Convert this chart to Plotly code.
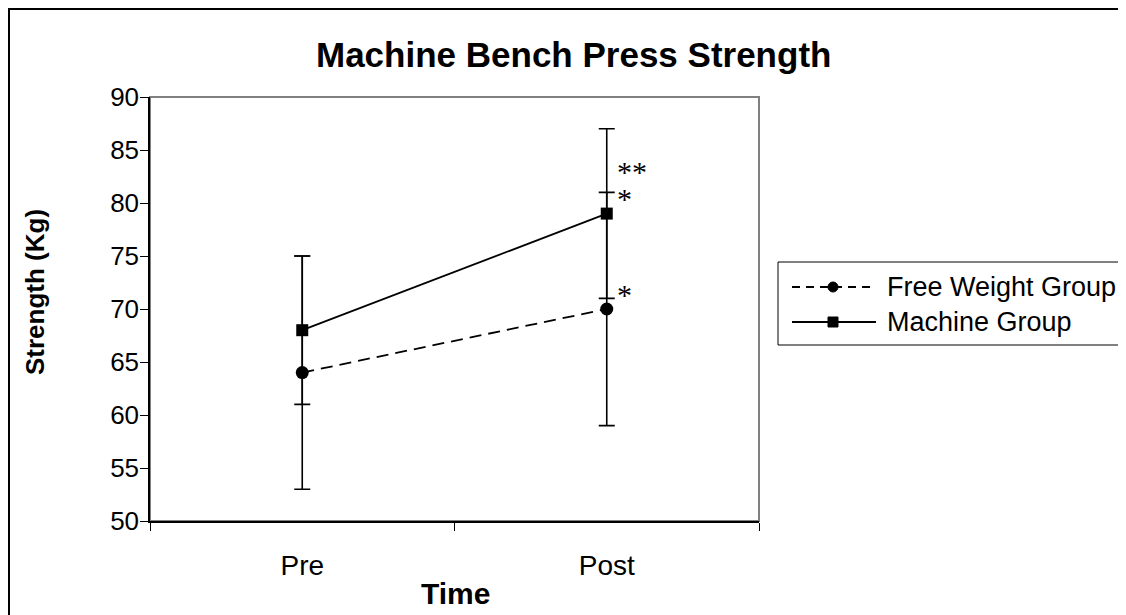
import plotly.graph_objects as go

# ---- data ----
categories = ["Pre", "Post"]
free_weight = [64, 70]
free_weight_err = [11, 11]
machine = [68, 79]
machine_err = [7, 8]
y_ticks = [50, 55, 60, 65, 70, 75, 80, 85, 90]
sig_labels = [("**", 83.0), ("*", 80.4), ("*", 71.4)]  # (text, y value) at Post
series_names = ["Free Weight Group", "Machine Group"]

FONT = "Liberation Sans, Arial, sans-serif"
SERIF = "Liberation Serif, Times New Roman, serif"

# page has an 8px body margin: work in page pixels, convert to figure pixels
OFF = 8
W, H = 1126, 615
PL, PR, PT, PB = 150, 759, 97, 521          # plot area in page pixels
L, T = PL - OFF, PT - OFF
R = W - (PR - OFF)
B = H - (PB - OFF)
pw, ph = PR - PL, PB - PT

def px(x):
    return (x - PL) / pw

def py(y):
    return (PB - y) / ph

fig = go.Figure()
fig.add_trace(go.Scatter(
    x=categories, y=free_weight, name=series_names[0], mode="lines+markers",
    line=dict(color="black", width=1.8, dash="12px,7px"),
    marker=dict(symbol="circle", size=13, color="black"),
    error_y=dict(type="data", array=free_weight_err, symmetric=True,
                 color="black", thickness=1.6, width=8),
    showlegend=False,
))
fig.add_trace(go.Scatter(
    x=categories, y=machine, name=series_names[1], mode="lines+markers",
    line=dict(color="black", width=1.8),
    marker=dict(symbol="square", size=12, color="black"),
    error_y=dict(type="data", array=machine_err, symmetric=True,
                 color="black", thickness=1.6, width=8),
    showlegend=False,
))

for txt, yv in sig_labels:
    fig.add_annotation(x="Post", y=yv, xref="x", yref="y", text=txt, showarrow=False,
                       xanchor="left", yanchor="middle", xshift=8,
                       font=dict(family=SERIF, size=30, color="black"))

fig.update_layout(
    width=W, height=H,
    margin=dict(l=L, r=R, t=T, b=B),
    paper_bgcolor="white", plot_bgcolor="white",
    font=dict(family=FONT, color="black"),
    showlegend=False,
    xaxis=dict(type="category", range=[-0.5, 1.5], tickson="boundaries",
               ticks="outside", ticklen=8, tickcolor="black", tickwidth=1,
               showline=True, linecolor="black", linewidth=1.5, showgrid=False,
               zeroline=False, tickfont=dict(size=28, family=FONT, color="black"),
               ticklabelstandoff=19),
    yaxis=dict(range=[50, 90], tickvals=y_ticks, ticks="outside", ticklen=8,
               tickcolor="black", tickwidth=1, showline=True, linecolor="black",
               linewidth=1.5, showgrid=False, zeroline=False,
               tickfont=dict(size=26, family=FONT, color="black"),
               ticklabelstandoff=-4),
)

# plot area border (gray top/right) and outer chart border
fig.add_shape(type="rect", xref="paper", yref="paper", x0=0, x1=1, y0=0, y1=1,
              line=dict(color="#808080", width=2), layer="below")
fig.add_shape(type="rect", xref="paper", yref="paper", x0=px(9), x1=px(1160), y0=py(650), y1=py(9),
              line=dict(color="black", width=2), layer="below")

# ---- legend (drawn manually to match the long sample lines) ----
fig.add_shape(type="rect", xref="paper", yref="paper", x0=px(778), x1=px(1160), y0=py(345), y1=py(262),
              line=dict(color="black", width=1), fillcolor="white", layer="below")
leg_y = [287, 322]
leg_dash = ["8px,6px", "solid"]
for i, name in enumerate(series_names):
    yy = py(leg_y[i])
    fig.add_shape(type="line", xref="paper", yref="paper", x0=px(792), x1=px(876), y0=yy, y1=yy,
                  line=dict(color="black", width=1.8, dash=leg_dash[i]))
    fig.add_shape(type="circle" if i == 0 else "rect", xref="paper", yref="paper",
                  x0=px(828), x1=px(838), y0=py(leg_y[i] + 5), y1=py(leg_y[i] - 5),
                  line=dict(color="black", width=1), fillcolor="black")
    fig.add_annotation(xref="paper", yref="paper", x=px(885), y=yy, text=name, showarrow=False,
                       xanchor="left", yanchor="middle",
                       font=dict(family=FONT, size=27, color="black"))

# titles
fig.add_annotation(xref="paper", yref="paper", x=px(573), y=py(55), text="<b>Machine Bench Press Strength</b>",
                   showarrow=False, xanchor="center", yanchor="middle",
                   font=dict(family=FONT, size=35, color="black"))
fig.add_annotation(xref="paper", yref="paper", x=px(455), y=py(593), text="<b>Time</b>",
                   showarrow=False, xanchor="center", yanchor="middle",
                   font=dict(family=FONT, size=30, color="black"))
fig.add_annotation(xref="paper", yref="paper", x=px(35), y=py(292), text="<b>Strength (Kg)</b>",
                   showarrow=False, xanchor="center", yanchor="middle", textangle=-90,
                   font=dict(family=FONT, size=26, color="black"))

fig.write_html("out.html")
